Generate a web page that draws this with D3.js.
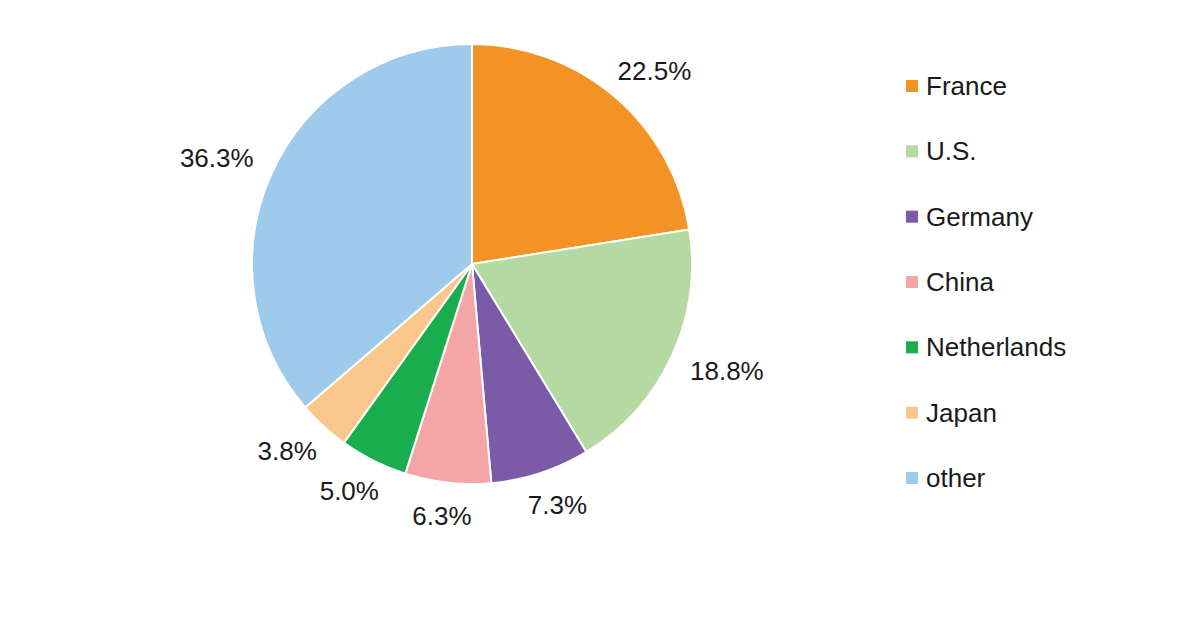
<!DOCTYPE html>
<html>
<head>
<meta charset="utf-8">
<script src="https://cdn.jsdelivr.net/npm/d3@7"></script>
<style>
  html, body { margin: 0; padding: 0; background: #fff; }
  svg { display: block; font-family: "Liberation Sans", Arial, sans-serif; }
</style>
</head>
<body>
<svg id="chart"></svg>
<script>
// data
const countries = ['France', 'U.S.', 'Germany', 'China', 'Netherlands', 'Japan', 'other']
const shares = [22.5, 18.8, 7.3, 6.3, 5.0, 3.8, 36.3]
const colours = ['#f39325', '#b5d9a2', '#7b5ba8', '#f4a6a7', '#19ad4d', '#f9c78b', '#9ecbeb']

const w = 1196
const h = 628

const svg = d3.select('#chart')
  .attr('width', w)
  .attr('height', h)

// pie setup
const cx = 472
const cy = 264
const r = 220

const data = countries.map((c, i) => ({ name: c, value: shares[i], colour: colours[i] }))

const pie = d3.pie()
  .value(d => d.value)
  .sort(null)

const arc = d3.arc()
  .innerRadius(0)
  .outerRadius(r)

const g = svg.append('g')
  .attr('transform', `translate(${cx}, ${cy})`)

const arcs = pie(data)

g.selectAll('path')
  .data(arcs)
  .enter().append('path')
  .attr('d', arc)
  .attr('fill', d => d.data.colour)
  .attr('stroke', '#fff')
  .attr('stroke-width', 2)
  .attr('stroke-linejoin', 'round')

// labels outside the slices, pushed out by half the box size
const labelR = 244
const labels = g.selectAll('text.pct')
  .data(arcs)
  .enter().append('text')
  .attr('class', 'pct')
  .attr('font-size', 26)
  .attr('fill', '#1a1a1a')
  .attr('text-anchor', 'middle')
  .attr('dominant-baseline', 'central')
  .text(d => d.data.value.toFixed(1) + '%')

labels.each(function (d) {
  const box = this.getBBox()
  const a = (d.startAngle + d.endAngle) / 2
  const s = Math.sin(a)
  const c = Math.cos(a)
  const x = labelR * s + s * box.width / 2
  const y = -labelR * c - c * 10
  d3.select(this).attr('x', x).attr('y', y)
})

// legend
const legendY = d3.scalePoint()
  .domain(countries)
  .range([86, 478])

const legend = svg.append('g')
  .attr('class', 'legend')

const item = legend.selectAll('g')
  .data(data)
  .enter().append('g')
  .attr('transform', d => `translate(906, ${legendY(d.name)})`)

item.append('rect')
  .attr('x', 0)
  .attr('y', -6)
  .attr('width', 12)
  .attr('height', 12)
  .attr('fill', d => d.colour)

item.append('text')
  .attr('x', 20)
  .attr('y', 0)
  .attr('dominant-baseline', 'central')
  .attr('font-size', 26)
  .attr('fill', '#1a1a1a')
  .text(d => d.name)
</script>
</body>
</html>
